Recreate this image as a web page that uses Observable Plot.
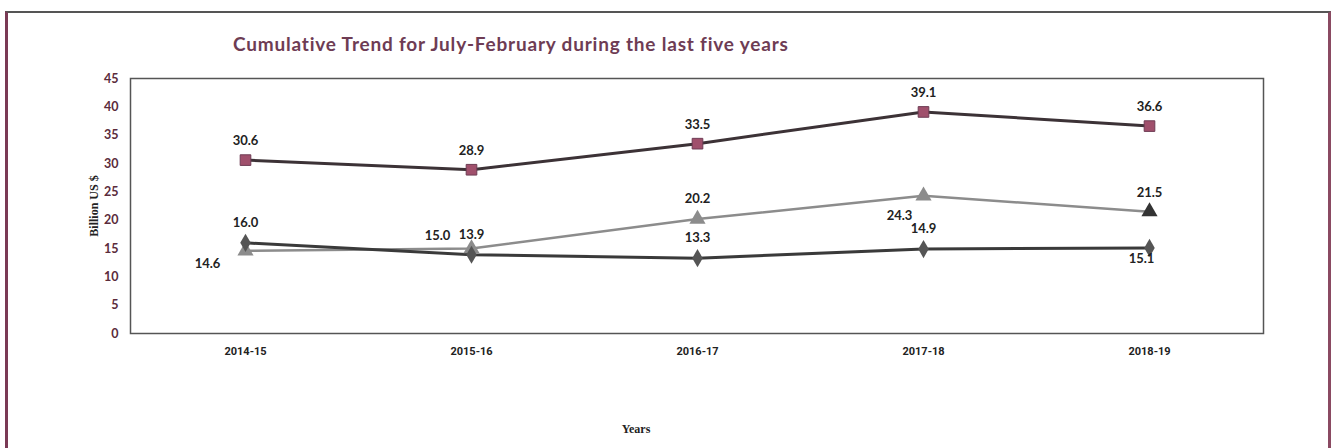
<!DOCTYPE html>
<html>
<head>
<meta charset="utf-8">
<script src="https://cdn.jsdelivr.net/npm/d3@7"></script>
<script src="https://cdn.jsdelivr.net/npm/@observablehq/plot@0.6"></script>
<style>
  html, body { margin: 0; padding: 0; background: #fff; }
  #wrap { position: relative; width: 1332px; height: 448px; overflow: hidden; background: #fff; }
  #border { position: absolute; left: 5px; top: 11px; width: 1320px; height: 460px;
            border-top: 2px solid #555; border-left: 3px solid #7a3a55; border-right: 3px solid #8a4a62; }
  #title { position: absolute; left: 233px; top: 32px; font-family: Lato, "Open Sans", sans-serif;
           font-weight: bold; font-size: 19px; letter-spacing: 0.8px; color: #6e3c54; white-space: nowrap; }
  #xlabel { position: absolute; left: 0; width: 1272px; top: 422px; text-align: center;
            font-family: "Liberation Serif", "DejaVu Serif", serif; font-weight: bold; font-size: 12px; color: #222; }
  #chart { position: absolute; left: 0; top: 0; }
</style>
</head>
<body>
<div id="wrap">
  <div id="border"></div>
  <div id="title">Cumulative Trend for July-February during the last five years</div>
  <div id="chart"></div>
  <div id="xlabel">Years</div>
</div>
<script>
const years = ["2014-15", "2015-16", "2016-17", "2017-18", "2018-19"];
const seriesSquare = [30.6, 28.9, 33.5, 39.1, 36.6];
const seriesTriangle = [14.6, 15.0, 20.2, 24.3, 21.5];
const seriesDiamond = [16.0, 13.9, 13.3, 14.9, 15.1];
const yTicks = [0, 5, 10, 15, 20, 25, 30, 35, 40, 45];

const mk = (vals, s) => vals.map((v, i) => ({year: years[i], value: v, series: s, i}));
const dSq = mk(seriesSquare, "sq");
const dTr = mk(seriesTriangle, "tr");
const dDi = mk(seriesDiamond, "di");

// label placement offsets (presentation, not data)
const place = {
  sq: () => [0, -19],
  di: (i) => i === 4 ? [-8, 11] : [0, -20],
  tr: (i) => [[-38, 13], [-34, -13], [0, -20], [-24, 20], [0, -19]][i]
};
const labels = [...dSq, ...dTr, ...dDi].map(d => {
  const [dx, dy] = place[d.series](d.i);
  return {...d, dx, dy};
});

const chart = Plot.plot({
  width: 1332,
  height: 448,
  marginLeft: 130,
  marginRight: 69,
  marginTop: 78,
  marginBottom: 115,
  style: {background: "transparent", overflow: "visible"},
  x: {type: "point", domain: years, padding: 0.5, label: null, tickSize: 0, tickPadding: 14},
  y: {domain: [0, 45], ticks: yTicks, label: null, tickSize: 0, tickPadding: 12},
  marks: [
    Plot.frame({stroke: "#555", strokeWidth: 1.5}),
    Plot.axisY({ticks: yTicks, tickSize: 0, tickPadding: 12, label: null,
      fill: "#5b2c3c", fontSize: 12.5, fontWeight: "bold", fontFamily: "Lato, 'Open Sans', sans-serif"}),
    Plot.axisX({tickSize: 0, tickPadding: 14, label: null, fill: "#222", fontSize: 11, fontWeight: "bold",
      fontFamily: "'Liberation Sans Narrow', 'Arial Narrow', 'Roboto', sans-serif"}),
    Plot.text(["Billion US $"], {frameAnchor: "left", textAnchor: "middle", dx: -36, rotate: -90, fontWeight: "bold",
      fontSize: 12, fontFamily: "'Liberation Serif', 'DejaVu Serif', serif", fill: "#222"}),
    Plot.line(dTr, {x: "year", y: "value", stroke: "#8c8c8c", strokeWidth: 2.5}),
    Plot.line(dDi, {x: "year", y: "value", stroke: "#3a3a3a", strokeWidth: 3}),
    Plot.line(dSq, {x: "year", y: "value", stroke: "#3c3236", strokeWidth: 3}),
    Plot.dot(dTr, {x: "year", y: "value", symbol: "triangle", r: 6, fill: (d) => d.i === 4 ? "#333" : "#8c8c8c", stroke: "none"}),
    Plot.dot(dDi, {x: "year", y: "value", symbol: "diamond", r: 5.5, fill: "#555", stroke: "none"}),
    Plot.dot(dSq, {x: "year", y: "value", symbol: "square", r: 6, fill: "#a0506c", stroke: "#6e3c54", strokeWidth: 1}),
    ...labels.map(d => Plot.text([d], {x: "year", y: "value", text: (t) => t.value.toFixed(1),
      dx: d.dx, dy: d.dy, fill: "#222", fontSize: 13, fontWeight: "bold",
      fontFamily: "Lato, 'Open Sans', sans-serif"}))
  ]
});
document.getElementById("chart").appendChild(chart);
</script>
</body>
</html>
